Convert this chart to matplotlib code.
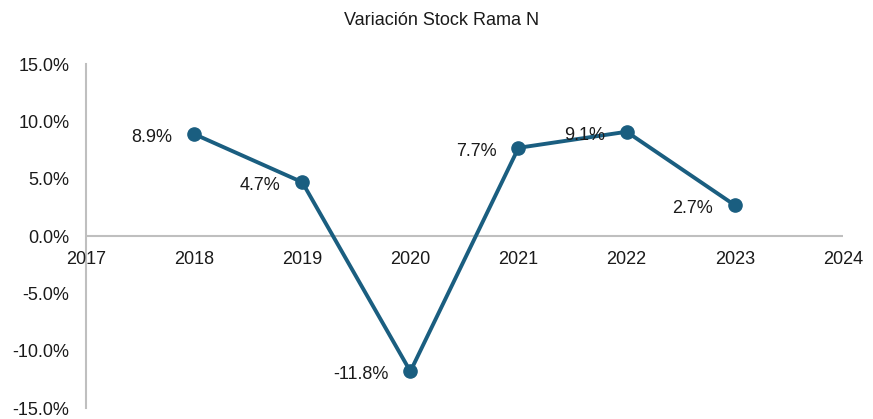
import matplotlib
matplotlib.use("Agg")
import matplotlib.pyplot as plt
from matplotlib.ticker import FuncFormatter

plt.rcParams['font.family'] = ['Liberation Sans', 'DejaVu Sans']

years = [2018, 2019, 2020, 2021, 2022, 2023]
values = [8.9, 4.7, -11.8, 7.7, 9.1, 2.7]
labels = ["8.9%", "4.7%", "-11.8%", "7.7%", "9.1%", "2.7%"]
title = "Variación Stock Rama N"

color = "#1A5E80"
gray = "#BFBFBF"

fig = plt.figure(figsize=(8.73, 4.19), dpi=100)
ax = fig.add_axes([0.0985, 0.026, 0.867, 0.821])

ax.plot(years, values, color=color, lw=2.8, marker='o', ms=9.5, zorder=3)
for x, y, t in zip(years, values, labels):
    ax.annotate(t, (x, y), xytext=(-15.5, -2.5), textcoords='offset points',
                ha='right', va='center', fontsize=13, color='#1a1a1a')

ax.set_xlim(2017, 2024)
ax.set_ylim(-15, 15)
ax.set_yticks([-15, -10, -5, 0, 5, 10, 15])
ax.yaxis.set_major_formatter(FuncFormatter(lambda v, p: f"{v:.1f}%"))
ax.set_xticks(range(2017, 2025))

for s in ['top', 'right', 'bottom']:
    ax.spines[s].set_visible(False)
ax.spines['left'].set_color(gray)
ax.spines['left'].set_linewidth(1.5)
ax.axhline(0, color=gray, lw=1.5, zorder=1)

ax.tick_params(axis='both', length=0, labelsize=13, colors='#1a1a1a')
ax.tick_params(axis='y', pad=12)
ax.set_xticklabels([])
for yr in range(2017, 2025):
    ax.annotate(str(yr), (yr, 0), xytext=(0, -10.5), textcoords='offset points',
                ha='center', va='top', fontsize=13, color='#1a1a1a')

fig.text(0.506, 0.952, title, ha='center', va='center', fontsize=13, color='#1a1a1a')

fig.savefig("out.png", dpi=100)
